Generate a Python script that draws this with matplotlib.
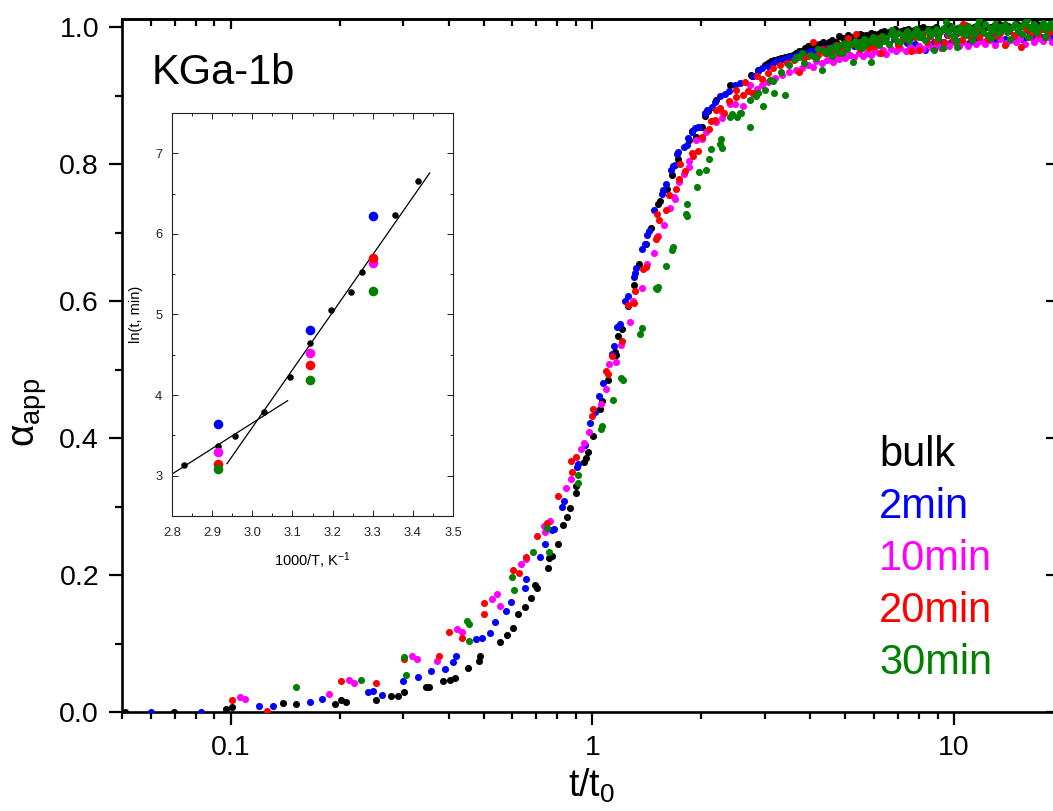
import matplotlib
matplotlib.use("Agg")
import matplotlib.pyplot as plt
from matplotlib.ticker import FixedLocator, FixedFormatter, MultipleLocator, NullFormatter, FormatStrFormatter

plt.rcParams["font.family"] = ["Liberation Sans", "DejaVu Sans"]
plt.rcParams["mathtext.fontset"] = "custom"
plt.rcParams["mathtext.rm"] = "Liberation Sans"
plt.rcParams["mathtext.it"] = "Liberation Sans:italic"
plt.rcParams["mathtext.sf"] = "Liberation Sans"

# ---------------- main panel: alpha_app vs reduced time t/t0 ----------------
bulk_pts = [
    (0.051, 0.0), (0.0695, 0.0), (0.0969, 0.005), (0.101, 0.007), (0.139, 0.0127), (0.151, 0.012),
    (0.1936, 0.0124), (0.201, 0.0181), (0.208, 0.0146), (0.2518, 0.0181), (0.2776, 0.0234),
    (0.2894, 0.0238), (0.302, 0.0297), (0.347, 0.037), (0.352, 0.036), (0.386, 0.0448),
    (0.4027, 0.0462), (0.417, 0.05), (0.4526, 0.0638), (0.484, 0.0749), (0.49, 0.0818),
    (0.5533, 0.1027), (0.58, 0.112), (0.6021, 0.1231), (0.6229, 0.1431), (0.6527, 0.1533),
    (0.675, 0.166), (0.694, 0.185), (0.703, 0.1815), (0.752, 0.2107), (0.7603, 0.2244),
    (0.7718, 0.2282), (0.8017, 0.2448), (0.8308, 0.2727), (0.8505, 0.2842), (0.8686, 0.2983),
    (0.8988, 0.3304), (0.9025, 0.3194), (0.949, 0.3645), (0.9614, 0.3713), (0.970, 0.3791),
    (1.003, 0.4029), (1.05, 0.4423), (1.06, 0.454), (1.101, 0.4847), (1.152, 0.5253),
    (1.159, 0.5212), (1.176, 0.5484), (1.204, 0.560), (1.25, 0.5927), (1.302, 0.6238),
    (1.344, 0.654), (1.404, 0.6832), (1.447, 0.7061), (1.519, 0.7416), (1.538, 0.7465),
    (1.608, 0.764), (1.657, 0.7839), (1.728, 0.8073), (1.849, 0.836), (1.885, 0.8486),
    (1.929, 0.8394), (2.003, 0.8545), (2.046, 0.870), (2.088, 0.8774), (2.196, 0.8934),
    (2.407, 0.9153), (2.75, 0.930), (2.765, 0.9289), (2.87, 0.937), (3.0, 0.945), (3.06, 0.948),
    (3.12, 0.950), (3.18, 0.952), (3.25, 0.953), (3.32, 0.955), (3.4, 0.956), (3.5, 0.958),
    (3.58, 0.959), (3.66, 0.963), (3.73, 0.965), (3.79, 0.966), (3.86, 0.969), (3.94, 0.972),
    (4.02, 0.973), (4.1, 0.975), (4.24, 0.976), (4.33, 0.978), (4.42, 0.976), (4.52, 0.978),
    (4.6, 0.981), (4.7, 0.978), (4.82, 0.987), (4.92, 0.984), (5.0, 0.982), (5.1, 0.988),
    (5.18, 0.986), (5.3, 0.986), (5.4, 0.984), (5.5, 0.990), (5.58, 0.988), (5.7, 0.989),
    (5.8, 0.986), (5.9, 0.992), (6.0, 0.990), (6.15, 0.990), (6.27, 0.993), (6.38, 0.994),
    (6.5, 0.990), (6.62, 0.993), (6.75, 0.996), (6.88, 0.997), (7.0, 0.992), (7.15, 0.995),
    (7.29, 0.996), (7.45, 0.998), (7.6, 0.994), (7.75, 0.996), (7.9, 0.997), (8.05, 0.999),
    (8.19, 1.000), (8.45, 0.997), (8.71, 0.998), (8.9, 1.001), (9.1, 0.995), (9.3, 0.998),
    (9.5, 0.999), (9.75, 1.002), (10.0, 0.997), (10.25, 0.999), (10.5, 1.000), (10.75, 1.003),
    (11.0, 0.998), (11.35, 1.000), (11.7, 1.006), (12.0, 1.004), (12.3, 1.000), (12.65, 1.001),
    (13.0, 0.999), (13.35, 1.005), (13.7, 1.003), (14.1, 1.002), (14.5, 1.001), (14.9, 1.005),
    (15.3, 1.002), (15.75, 1.003), (16.2, 1.000), (16.6, 1.006), (17.0, 1.004), (17.5, 1.003),
    (18.0, 1.002), (18.5, 1.006), (19.0, 1.003), (19.3, 1.004),
]

min2_pts = [
    (0.0602, 0.0), (0.0826, 0.0), (0.1197, 0.0085), (0.1308, 0.0088), (0.165, 0.0139),
    (0.179, 0.0197), (0.2392, 0.0287), (0.2474, 0.031), (0.2615, 0.0243), (0.2987, 0.046),
    (0.330, 0.0516), (0.3584, 0.0603), (0.3918, 0.0623), (0.4114, 0.073), (0.4183, 0.0818),
    (0.4751, 0.1063), (0.4935, 0.1076), (0.5215, 0.115), (0.5361, 0.1314), (0.576, 0.1474),
    (0.5958, 0.161), (0.6513, 0.1806), (0.6567, 0.1937), (0.7148, 0.2263), (0.7396, 0.2448),
    (0.7747, 0.2664), (0.7846, 0.2674), (0.8223, 0.2988), (0.8346, 0.3088), (0.905, 0.358),
    (0.91, 0.362), (0.9535, 0.3893), (0.986, 0.4214), (1.016, 0.4384), (1.04, 0.4618),
    (1.069, 0.4798), (1.13, 0.5234), (1.148, 0.5347), (1.171, 0.5625), (1.193, 0.566),
    (1.232, 0.6005), (1.253, 0.6068), (1.304, 0.6355), (1.312, 0.6404), (1.318, 0.6477),
    (1.369, 0.676), (1.393, 0.6837), (1.416, 0.6968), (1.434, 0.7026), (1.484, 0.7328),
    (1.552, 0.7562), (1.568, 0.762), (1.602, 0.7704), (1.644, 0.7922), (1.67, 0.797),
    (1.696, 0.7995), (1.713, 0.8146), (1.724, 0.818), (1.791, 0.8253), (1.822, 0.8273),
    (1.842, 0.838), (1.888, 0.8467), (1.916, 0.853), (1.955, 0.855), (1.968, 0.855),
    (2.046, 0.874), (2.073, 0.879), (2.136, 0.8837), (2.18, 0.8905), (2.257, 0.8993),
    (2.318, 0.9018), (2.387, 0.907), (2.484, 0.9163), (2.566, 0.9187), (2.771, 0.9289),
    (2.875, 0.9358), (2.95, 0.940), (3.05, 0.944), (3.15, 0.948), (3.22, 0.950), (3.3, 0.952),
    (3.38, 0.953), (3.45, 0.955), (3.52, 0.957), (3.6, 0.958), (3.68, 0.960), (3.75, 0.961),
    (3.82, 0.962), (3.9, 0.963), (4.0, 0.965), (4.1, 0.966), (4.2, 0.968), (4.3, 0.967),
    (4.4, 0.970), (4.5, 0.969), (4.62, 0.972), (4.75, 0.970), (4.88, 0.974), (5.0, 0.971),
    (5.15, 0.975), (5.3, 0.972), (5.45, 0.977), (5.6, 0.974), (5.75, 0.979), (5.9, 0.973),
    (6.05, 0.980), (6.2, 0.975), (6.4, 0.982), (6.6, 0.976), (6.8, 0.983), (7.0, 0.975),
    (7.2, 0.984), (7.4, 0.977), (7.6, 0.985), (7.8, 0.976), (8.05, 0.986), (8.33, 0.967),
    (8.55, 0.987), (8.8, 0.978), (9.05, 0.988), (9.3, 0.979), (9.55, 0.989), (9.8, 0.978),
    (10.1, 0.990), (10.4, 0.980), (10.7, 0.991), (11.0, 0.977), (11.3, 0.992), (11.6, 0.981),
    (11.95, 0.993), (12.3, 0.982), (12.65, 0.992), (13.0, 0.980), (13.4, 0.994), (13.8, 0.983),
    (14.2, 0.995), (14.6, 0.984), (15.0, 0.994), (15.5, 0.982), (15.9, 0.996), (16.4, 0.985),
    (16.9, 0.995), (17.4, 0.986), (17.9, 0.997), (18.4, 0.985), (18.9, 0.996), (19.3, 0.987),
]

min10_pts = [
    (0.106, 0.0216), (0.1095, 0.0187), (0.1863, 0.026), (0.2116, 0.0472), (0.2188, 0.042),
    (0.3177, 0.0822), (0.328, 0.0778), (0.3724, 0.0749), (0.4229, 0.1212), (0.4365, 0.1163),
    (0.528, 0.1645), (0.5451, 0.1718), (0.5567, 0.1547), (0.6336, 0.2156), (0.6555, 0.2234),
    (0.7349, 0.272), (0.741, 0.2628), (0.7635, 0.2785), (0.8449, 0.3275), (0.8725, 0.3406),
    (0.9296, 0.3844), (0.949, 0.3924), (0.98, 0.4092), (1.055, 0.4496), (1.088, 0.4715),
    (1.11, 0.5075), (1.161, 0.5107), (1.201, 0.5358), (1.266, 0.5698), (1.296, 0.6005),
    (1.372, 0.6194), (1.413, 0.6536), (1.478, 0.6698), (1.519, 0.6956), (1.578, 0.7114),
    (1.636, 0.7367), (1.685, 0.7523), (1.689, 0.749), (1.735, 0.7737), (1.791, 0.7854),
    (1.848, 0.796), (1.853, 0.804), (1.937, 0.835), (2.009, 0.837), (2.065, 0.8472),
    (2.2, 0.8618), (2.281, 0.8755), (2.286, 0.8667), (2.402, 0.888), (2.476, 0.8886),
    (2.603, 0.8847), (2.72, 0.9153), (2.776, 0.9022), (2.85, 0.910), (2.95, 0.916),
    (3.05, 0.920), (3.2, 0.926), (3.35, 0.930), (3.5, 0.935), (3.65, 0.938), (3.8, 0.940),
    (3.95, 0.945), (4.06, 0.942), (4.15, 0.950), (4.3, 0.948), (4.45, 0.952), (4.61, 0.949),
    (4.7, 0.955), (4.8, 0.953), (4.95, 0.958), (5.0, 0.955), (5.15, 0.960), (5.3, 0.957),
    (5.45, 0.962), (5.6, 0.958), (5.75, 0.963), (5.9, 0.960), (6.05, 0.965), (6.2, 0.962),
    (6.35, 0.967), (6.5, 0.961), (6.7, 0.968), (6.9, 0.966), (7.1, 0.970), (7.36, 0.965),
    (7.55, 0.971), (7.8, 0.967), (8.0, 0.973), (8.2, 0.968), (8.45, 0.975), (8.7, 0.970),
    (8.95, 0.974), (9.2, 0.969), (9.45, 0.977), (9.7, 0.972), (10.0, 0.978), (10.3, 0.973),
    (10.6, 0.979), (10.9, 0.972), (11.2, 0.981), (11.5, 0.975), (11.85, 0.980), (12.2, 0.976),
    (12.6, 0.982), (13.0, 0.974), (13.4, 0.983), (13.9, 0.977), (14.3, 0.982), (14.8, 0.978),
    (15.2, 0.984), (15.7, 0.976), (16.1, 0.985), (16.6, 0.979), (17.1, 0.984), (17.6, 0.980),
    (18.1, 0.986), (18.6, 0.978), (19.1, 0.987), (19.4, 0.981),
]

min20_pts = [
    (0.101, 0.018), (0.1257, 0.002), (0.201, 0.0458), (0.2518, 0.042), (0.302, 0.0769),
    (0.3772, 0.0818), (0.4018, 0.1163), (0.4365, 0.1085), (0.501, 0.1435), (0.501, 0.1596),
    (0.602, 0.2077), (0.627, 0.2034), (0.6555, 0.2267), (0.7015, 0.2574), (0.7506, 0.2755),
    (0.8017, 0.316), (0.8725, 0.3669), (0.878, 0.3508), (0.9025, 0.3723), (1.0, 0.432),
    (1.003, 0.4418), (1.088, 0.4978), (1.101, 0.493), (1.13, 0.5197), (1.206, 0.5412),
    (1.255, 0.5942), (1.304, 0.5966), (1.307, 0.615), (1.375, 0.6467), (1.402, 0.650),
    (1.494, 0.6912), (1.509, 0.693), (1.507, 0.7266), (1.528, 0.7178), (1.602, 0.7328),
    (1.625, 0.7543), (1.703, 0.7638), (1.735, 0.779), (1.746, 0.800), (1.8, 0.790),
    (1.88, 0.8156), (1.9, 0.8121), (1.958, 0.8194), (2.003, 0.8404), (2.105, 0.8516),
    (2.126, 0.8635), (2.178, 0.8642), (2.196, 0.8788), (2.248, 0.8822), (2.309, 0.874),
    (2.387, 0.892), (2.488, 0.8974), (2.5, 0.908), (2.603, 0.9012), (2.635, 0.9202),
    (2.694, 0.9066), (2.776, 0.9041), (2.858, 0.9289), (2.95, 0.925), (3.05, 0.933),
    (3.15, 0.940), (3.3, 0.945), (3.45, 0.948), (3.6, 0.952), (3.73, 0.935), (3.85, 0.955),
    (3.95, 0.958), (4.06, 0.978), (4.2, 0.960), (4.3, 0.968), (4.4, 0.963), (4.5, 0.970),
    (4.6, 0.965), (4.7, 0.974), (4.8, 0.962), (4.9, 0.972), (5.0, 0.967), (5.08, 0.9845),
    (5.2, 0.976), (5.35, 0.990), (5.5, 0.968), (5.65, 0.979), (5.8, 0.970), (5.95, 0.980),
    (6.0, 0.972), (6.15, 0.984), (6.28, 0.9625), (6.45, 0.982), (6.6, 0.975), (6.8, 0.985),
    (7.0, 0.974), (7.2, 0.983), (7.4, 0.988), (7.6, 0.9647), (7.8, 0.986), (7.99, 0.967),
    (8.2, 0.990), (8.4, 0.978), (8.6, 0.987), (8.9, 0.980), (9.1, 0.991), (9.4, 0.979),
    (9.6, 0.989), (9.9, 0.982), (10.2, 0.993), (10.5, 0.981), (10.6, 1.004), (10.8, 0.990),
    (11.1, 0.984), (11.4, 0.994), (11.7, 0.986), (12.0, 0.991), (12.4, 0.983), (12.7, 0.995),
    (13.1, 0.987), (13.4, 0.992), (13.8, 0.974), (14.2, 0.996), (14.6, 0.988), (15.0, 0.993),
    (15.3, 0.9713), (15.8, 0.997), (16.2, 0.989), (16.6, 0.994), (17.1, 0.990), (17.5, 0.997),
    (18.1, 0.988), (18.5, 0.995), (19.1, 0.991), (19.4, 0.998),
]

min30_pts = [
    (0.151, 0.036), (0.2284, 0.0474), (0.302, 0.0803), (0.3046, 0.0536), (0.4506, 0.1324),
    (0.4563, 0.1285), (0.4563, 0.104), (0.6008, 0.197), (0.607, 0.1776), (0.6853, 0.234),
    (0.7506, 0.2686), (0.7603, 0.2336), (0.91, 0.3348), (0.912, 0.3464), (1.055, 0.413),
    (1.064, 0.418), (1.137, 0.455), (1.198, 0.4873), (1.214, 0.4847), (1.352, 0.5514),
    (1.367, 0.561), (1.5, 0.6185), (1.507, 0.617), (1.516, 0.6204), (1.595, 0.6514),
    (1.654, 0.6742), (1.668, 0.6785), (1.811, 0.7273), (1.822, 0.7416), (1.83, 0.725),
    (1.951, 0.7664), (1.968, 0.7893), (2.054, 0.7908), (2.105, 0.8073), (2.126, 0.8222),
    (2.25, 0.830), (2.264, 0.837), (2.277, 0.823), (2.407, 0.8682), (2.434, 0.873),
    (2.504, 0.8682), (2.55, 0.874), (2.58, 0.875), (2.72, 0.854), (2.72, 0.893), (2.84, 0.900),
    (2.86, 0.904), (2.96, 0.8856), (3.0, 0.909), (3.09, 0.923), (3.15, 0.9216), (3.17, 0.904),
    (3.33, 0.935), (3.41, 0.901), (3.5, 0.945), (3.62, 0.954), (3.66, 0.957), (3.73, 0.957),
    (3.8, 0.962), (3.85, 0.948), (4.0, 0.960), (4.08, 0.958), (4.15, 0.955), (4.2, 0.968),
    (4.31, 0.937), (4.38, 0.965), (4.45, 0.962), (4.53, 0.970), (4.6, 0.958), (4.68, 0.972),
    (4.75, 0.966), (4.83, 0.974), (4.9, 0.963), (5.0, 0.977), (5.05, 0.968), (5.15, 0.975),
    (5.25, 0.9493), (5.33, 0.980), (5.4, 0.972), (5.48, 0.978), (5.55, 0.969), (5.63, 0.983),
    (5.7, 0.975), (5.8, 0.980), (5.89, 0.9493), (5.95, 0.985), (6.0, 0.978), (6.1, 0.983),
    (6.2, 0.974), (6.3, 0.987), (6.4, 0.980), (6.5, 0.984), (6.6, 0.976), (6.68, 0.990),
    (6.75, 0.9956), (6.83, 0.986), (6.9, 0.982), (7.0, 0.992), (7.1, 0.978), (7.2, 0.988),
    (7.3, 0.985), (7.4, 0.994), (7.5, 0.980), (7.65, 0.989), (7.75, 0.992), (7.84, 0.998),
    (7.92, 0.995), (8.0, 0.986), (8.15, 0.990), (8.3, 0.982), (8.45, 0.996), (8.6, 0.988),
    (8.72, 0.992), (8.81, 0.9667), (8.9, 0.998), (9.0, 0.984), (9.15, 0.993), (9.29, 0.970),
    (9.4, 0.999), (9.5, 1.008), (9.6, 0.995), (9.7, 0.990), (9.85, 1.000), (10.0, 0.986),
    (10.1, 0.994), (10.15, 0.980), (10.2, 0.9713), (10.35, 1.001), (10.5, 0.992),
    (10.65, 0.996), (10.8, 0.988), (10.95, 1.002), (11.1, 0.995), (11.2, 0.982), (11.25, 0.997),
    (11.4, 0.990), (11.55, 1.003), (11.7, 1.010), (11.85, 0.998), (12.0, 0.993), (12.2, 1.004),
    (12.4, 0.989), (12.6, 0.999), (12.65, 0.984), (12.8, 0.996), (13.0, 1.005), (13.2, 0.991),
    (13.4, 1.000), (13.6, 0.998), (13.8, 1.004), (14.0, 0.993), (14.2, 0.998), (14.25, 0.983),
    (14.5, 1.000), (14.7, 1.005), (15.0, 0.995), (15.2, 1.001), (15.4, 0.990), (15.65, 1.006),
    (15.9, 1.010), (16.0, 0.986), (16.1, 1.000), (16.4, 0.997), (16.6, 1.005), (16.9, 0.993),
    (17.1, 0.999), (17.4, 1.002), (17.6, 1.006), (17.8, 0.985), (17.9, 0.996), (18.1, 1.001),
    (18.4, 1.004), (18.6, 1.006), (18.9, 0.998), (19.1, 1.000), (19.2, 0.987), (19.4, 1.005),
    (19.6, 1.004),
]

series_labels = ["bulk", "2min", "10min", "20min", "30min"]
series_colors = ["#000000", "#0000FF", "#FF00FF", "#FF0000", "#008000"]
series_points = [bulk_pts, min2_pts, min10_pts, min20_pts, min30_pts]

x_major = [0.1, 1, 10]
x_major_labels = ["0.1", "1", "10"]
x_minor = [0.05, 0.06, 0.07, 0.08, 0.09, 0.2, 0.3, 0.4, 0.5, 0.6, 0.7, 0.8, 0.9,
           2, 3, 4, 5, 6, 7, 8, 9]
y_major = [0.0, 0.2, 0.4, 0.6, 0.8, 1.0]

# ---------------- inset: Arrhenius-type plot ----------------
inv_T_bulk = [2.831, 2.914, 2.957, 3.030, 3.095, 3.144, 3.195, 3.246, 3.273, 3.356, 3.413]
ln_t_bulk = [3.128, 3.372, 3.496, 3.794, 4.229, 4.642, 5.060, 5.279, 5.532, 6.231, 6.657]
inv_T_treated = [2.915, 3.145, 3.300]
ln_t_2min = [3.637, 4.804, 6.222]
ln_t_10min = [3.294, 4.518, 5.643]
ln_t_20min = [3.145, 4.377, 5.701]
ln_t_30min = [3.087, 4.187, 5.296]
fit_low_x = [2.804, 3.088]
fit_low_y = [3.033, 3.931]
fit_high_x = [2.937, 3.442]
fit_high_y = [3.149, 6.756]

W, H = 1053, 811
fig = plt.figure(figsize=(W / 100, H / 100), dpi=100)


def px_rect(x0, y0, x1, y1):
    """Pixel box (origin top-left) to a figure-fraction rectangle."""
    return [x0 / W, 1 - y1 / H, (x1 - x0) / W, (y1 - y0) / H]


ax = fig.add_axes(px_rect(122, 19, 1059, 712))
for pts, col in zip(series_points, series_colors):
    ts = [p[0] for p in pts]
    al = [p[1] for p in pts]
    ax.scatter(ts, al, s=26, color=col, linewidths=0, zorder=3, clip_on=True)

ax.set_xscale("log")
ax.set_xlim(0.05, 19.5)
ax.set_ylim(0.0, 1.012)
ax.xaxis.set_major_locator(FixedLocator(x_major))
ax.xaxis.set_major_formatter(FixedFormatter(x_major_labels))
ax.xaxis.set_minor_locator(FixedLocator(x_minor))
ax.xaxis.set_minor_formatter(NullFormatter())
ax.yaxis.set_major_locator(FixedLocator(y_major))
ax.yaxis.set_major_formatter(FormatStrFormatter("%.1f"))
ax.yaxis.set_minor_locator(MultipleLocator(0.1))
ax.tick_params(which="major", direction="out", length=9.5, width=1.6, labelsize=20.5, pad=7)
ax.tick_params(which="minor", direction="out", length=5, width=1.6)
for sp in ax.spines.values():
    sp.set_linewidth(1.9)

# inward ticks on the top and right frame
top = ax.secondary_xaxis("top")
top.xaxis.set_major_locator(FixedLocator(x_major))
top.xaxis.set_minor_locator(FixedLocator(x_minor))
top.xaxis.set_major_formatter(NullFormatter())
top.xaxis.set_minor_formatter(NullFormatter())
top.tick_params(which="major", direction="in", length=7, width=1.6)
top.tick_params(which="minor", direction="in", length=5, width=1.6)
top.spines["top"].set_linewidth(1.9)

right = ax.secondary_yaxis("right")
right.yaxis.set_major_locator(FixedLocator(y_major))
right.yaxis.set_minor_locator(FixedLocator([]))
right.yaxis.set_major_formatter(NullFormatter())
right.tick_params(which="major", direction="in", length=9.5, width=1.6)
right.spines["right"].set_linewidth(1.9)

fig.text(30 / W, 1 - 412 / H, r"α$_{\mathrm{app}}$", rotation=90, ha="center", va="center",
         fontsize=28)
fig.text(592 / W, 1 - 797 / H, r"t/t$_{\mathrm{0}}$", ha="center", va="baseline", fontsize=27)
fig.text(152 / W, 1 - 84 / H, "KGa-1b", fontsize=30, va="baseline")

legend_baselines = [466, 518, 570, 622, 674]
for lab, col, yb in zip(series_labels, series_colors, legend_baselines):
    fig.text(879 / W, 1 - yb / H, lab, color=col, fontsize=30, va="baseline")

# inset
axi = fig.add_axes(px_rect(172, 113, 453, 516))
axi.set_facecolor("white")
axi.plot(fit_low_x, fit_low_y, color="black", lw=0.9, zorder=2)
axi.plot(fit_high_x, fit_high_y, color="black", lw=0.9, zorder=2)
axi.scatter(inv_T_bulk, ln_t_bulk, s=22, color="#000000", linewidths=0, zorder=3)
for vals, col in zip([ln_t_2min, ln_t_10min, ln_t_20min, ln_t_30min], series_colors[1:]):
    axi.scatter(inv_T_treated, vals, s=48, color=col, linewidths=0, zorder=4)
axi.set_xlim(2.8, 3.5)
axi.set_ylim(2.5, 7.5)
axi.xaxis.set_major_locator(MultipleLocator(0.1))
axi.xaxis.set_minor_locator(MultipleLocator(0.05))
axi.xaxis.set_major_formatter(FormatStrFormatter("%.1f"))
axi.yaxis.set_major_locator(FixedLocator([3, 4, 5, 6, 7]))
axi.yaxis.set_minor_locator(MultipleLocator(0.5))
axi.yaxis.set_major_formatter(FormatStrFormatter("%d"))
axi.tick_params(which="both", direction="in", top=True, right=True, width=0.7, colors="#222222",
                labelsize=9.3)
axi.tick_params(which="major", length=4)
axi.tick_params(which="minor", length=2.5)
axi.tick_params(axis="x", pad=8)
axi.tick_params(axis="y", pad=7)
for sp in axi.spines.values():
    sp.set_linewidth(0.8)
    sp.set_color("#222222")
axi.set_xlabel(r"1000/T, K$^{\mathrm{-1}}$", fontsize=10.5, labelpad=8)
axi.set_ylabel("ln(t, min)", fontsize=10.5, labelpad=9)

fig.savefig("out.png", dpi=100)
